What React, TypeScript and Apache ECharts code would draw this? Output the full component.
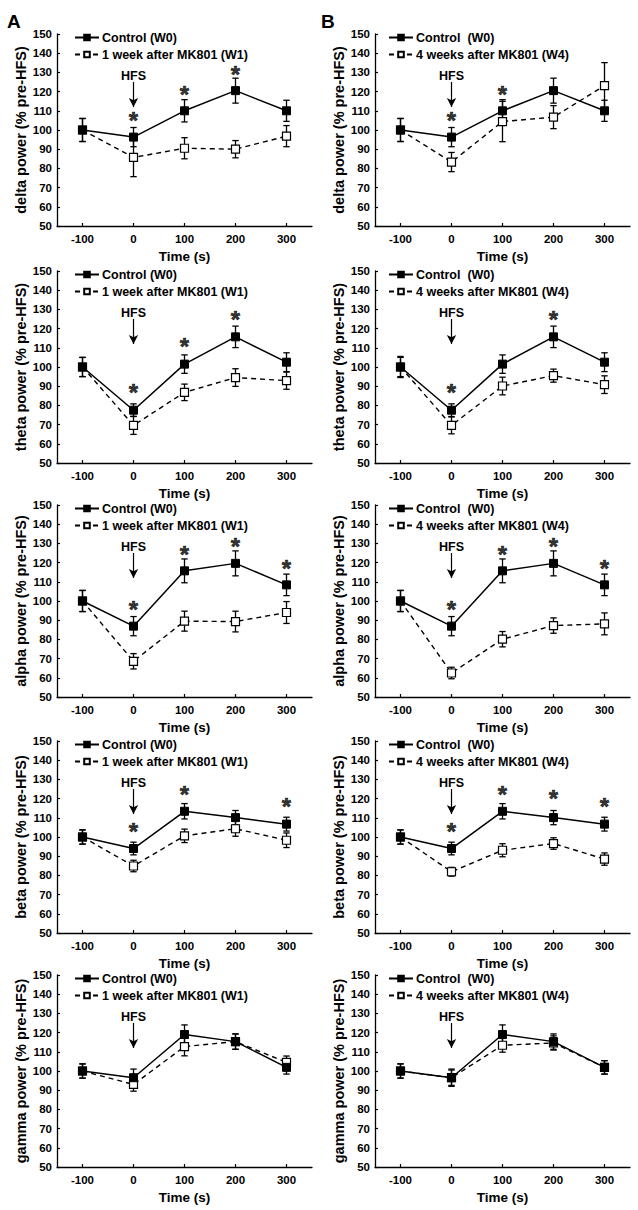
import React, { useEffect, useRef } from "react";
import * as echarts from "echarts";

const FONT = "'Liberation Sans', Arial, Helvetica, sans-serif";

// ---- data ----
const times = [-100, 0, 100, 200, 300];

const bandNames = ["delta", "theta", "alpha", "beta", "gamma"];

const deltaCtrl = [100, 96.3, 110, 120.5, 110];
const deltaCtrlErr = [6, 5, 5.8, 6.5, 5.5];
const deltaW1 = [100, 85.7, 90.5, 90, 96.8];
const deltaW1Err = [6, 10, 5.5, 4.5, 5.5];
const deltaW4 = [100, 83.3, 104.4, 106.7, 123.1];
const deltaW4Err = [6, 5, 10.5, 6, 12];
const deltaStarsA = [[0, 107.7], [100, 121.4], [200, 131.8]];
const deltaStarsB = [[0, 107.7], [100, 121.4]];

const thetaCtrl = [100, 77.5, 101.5, 115.7, 102.5];
const thetaCtrlErr = [5, 3.3, 4.8, 5.6, 4.9];
const thetaW1 = [100, 69.6, 86.8, 94.5, 92.9];
const thetaW1Err = [5, 4.7, 4.3, 4.6, 4.5];
const thetaW4 = [100, 69.6, 90.1, 95.5, 90.8];
const thetaW4Err = [5.5, 4.4, 4.6, 3.4, 4.6];
const thetaStarsA = [[0, 89.6], [100, 113.6], [200, 127.6]];
const thetaStarsB = [[0, 89.6], [200, 127.6]];

const alphaCtrl = [100, 86.9, 115.7, 119.6, 108.4];
const alphaCtrlErr = [5.5, 5, 6.2, 6.5, 5.6];
const alphaW1 = [100, 68.6, 89.5, 89.3, 94];
const alphaW1Err = [5.5, 4, 5.2, 5.4, 5.7];
const alphaW4 = [100, 62.5, 80.1, 87.2, 88.1];
const alphaW4Err = [5.5, 3, 4, 4, 5.7];
const alphaStarsA = [[0, 98.3], [100, 127], [200, 131], [300, 120]];
const alphaStarsB = [[0, 98.3], [100, 127], [200, 131], [300, 120]];

const betaCtrl = [100, 94, 113.4, 110.1, 106.7];
const betaCtrlErr = [3.7, 3.3, 4, 3.7, 3.6];
const betaW1 = [100, 84.9, 100.6, 104.3, 98.3];
const betaW1Err = [3.7, 3, 3.5, 3.9, 3.8];
const betaW4 = [100, 81.9, 93.1, 96.6, 88.5];
const betaW4Err = [3.7, 2.3, 3.4, 3, 3.2];
const betaStarsA = [[0, 105.5], [100, 124.8], [300, 118.8]];
const betaStarsB = [[0, 105.5], [100, 124.8], [200, 123], [300, 118.8]];

const gammaCtrl = [100, 96.5, 119, 115.3, 101.9];
const gammaCtrlErr = [3.7, 4.5, 5, 4, 3.5];
const gammaW1 = [100, 93, 112.7, 115.3, 104.5];
const gammaW1Err = [3.7, 3.5, 4.8, 4, 3.3];
const gammaW4 = [100, 96.5, 113.4, 114.6, 101.9];
const gammaW4Err = [3.7, 4, 3.6, 3.7, 3.5];
const gammaStarsA: number[][] = [];
const gammaStarsB: number[][] = [];

const ctrlNames = ["Control (W0)", "Control  (W0)"];
const treatNames = ["1 week after MK801 (W1)", "4 weeks after MK801 (W4)"];
const panelLetters = ["A", "B"];

const hfsArrow = { x: 0, from: 125, to: 112 };

const ctrlData = [deltaCtrl, thetaCtrl, alphaCtrl, betaCtrl, gammaCtrl];
const ctrlErr = [deltaCtrlErr, thetaCtrlErr, alphaCtrlErr, betaCtrlErr, gammaCtrlErr];
const treatData = [
  [deltaW1, thetaW1, alphaW1, betaW1, gammaW1],
  [deltaW4, thetaW4, alphaW4, betaW4, gammaW4],
];
const treatErr = [
  [deltaW1Err, thetaW1Err, alphaW1Err, betaW1Err, gammaW1Err],
  [deltaW4Err, thetaW4Err, alphaW4Err, betaW4Err, gammaW4Err],
];
const stars = [
  [deltaStarsA, thetaStarsA, alphaStarsA, betaStarsA, gammaStarsA],
  [deltaStarsB, thetaStarsB, alphaStarsB, betaStarsB, gammaStarsB],
];

// ---- layout ----
const colLeft = [57, 375];
const rowTop = [34, 271, 505, 741, 975];
const gridW = 255;
const gridH = 192;

function errorBarRender(params: any, api: any) {
  const x = api.value(0);
  const lo = api.coord([x, api.value(1)]);
  const hi = api.coord([x, api.value(2)]);
  const cap = 3.2;
  const style = { stroke: "#000", lineWidth: 1.3 };
  return {
    type: "group",
    children: [
      { type: "line", shape: { x1: lo[0], y1: lo[1], x2: hi[0], y2: hi[1] }, style },
      { type: "line", shape: { x1: lo[0] - cap, y1: lo[1], x2: lo[0] + cap, y2: lo[1] }, style },
      { type: "line", shape: { x1: hi[0] - cap, y1: hi[1], x2: hi[0] + cap, y2: hi[1] }, style },
    ],
  };
}

function buildOption() {
  const grid: any[] = [];
  const xAxis: any[] = [];
  const yAxis: any[] = [];
  const series: any[] = [];
  const legend: any[] = [];
  const graphic: any[] = [];

  for (let row = 0; row < 5; row++) {
    for (let col = 0; col < 2; col++) {
      const p = row * 2 + col;
      grid.push({ left: colLeft[col], top: rowTop[row], width: gridW, height: gridH });
      xAxis.push({
        type: "value",
        gridIndex: p,
        min: -150,
        max: 350,
        interval: 50,
        splitLine: { show: false },
        axisLine: { show: true, onZero: false, lineStyle: { color: "#000", width: 1.3 } },
        axisTick: { show: true, inside: true, length: 3, customValues: times, lineStyle: { color: "#000", width: 1.2 } },
        axisLabel: {
          customValues: times,
          color: "#000",
          fontWeight: "bold",
          fontSize: 11.5,
          fontFamily: FONT,
          margin: 7,
        },
        name: "Time (s)",
        nameLocation: "middle",
        nameGap: 23,
        nameTextStyle: { color: "#000", fontWeight: "bold", fontSize: 13.5, fontFamily: FONT },
      });
      yAxis.push({
        type: "value",
        gridIndex: p,
        min: 50,
        max: 150,
        interval: 10,
        splitLine: { show: false },
        axisLine: { show: true, onZero: false, lineStyle: { color: "#000", width: 1.3 } },
        axisTick: { show: true, inside: true, length: 3, lineStyle: { color: "#000", width: 1.2 } },
        axisLabel: { color: "#000", fontWeight: "bold", fontSize: 11.5, fontFamily: FONT, margin: 5 },
        name: bandNames[row] + " power (% pre-HFS)",
        nameLocation: "middle",
        nameGap: 25,
        nameTextStyle: { color: "#000", fontWeight: "bold", fontSize: 14.5, fontFamily: FONT },
      });

      const cData = times.map((t, i) => [t, ctrlData[row][i]]);
      const tData = times.map((t, i) => [t, treatData[col][row][i]]);
      const cErr = times.map((t, i) => [t, ctrlData[row][i] - ctrlErr[row][i], ctrlData[row][i] + ctrlErr[row][i]]);
      const tErr = times.map((t, i) => [
        t,
        treatData[col][row][i] - treatErr[col][row][i],
        treatData[col][row][i] + treatErr[col][row][i],
      ]);

      series.push({
        type: "custom",
        xAxisIndex: p,
        yAxisIndex: p,
        renderItem: errorBarRender,
        data: tErr,
        z: 2,
        silent: true,
      });
      series.push({
        type: "custom",
        xAxisIndex: p,
        yAxisIndex: p,
        renderItem: errorBarRender,
        data: cErr,
        z: 2,
        silent: true,
      });
      series.push({
        type: "line",
        name: treatNames[col],
        xAxisIndex: p,
        yAxisIndex: p,
        data: tData,
        symbol: "rect",
        symbolSize: 8,
        showAllSymbol: true,
        itemStyle: { color: "#fff", borderColor: "#000", borderWidth: 1.2 },
        lineStyle: { color: "#000", width: 1.4, type: [5, 4] },
        z: 3,
        silent: true,
      });
      series.push({
        type: "line",
        name: ctrlNames[col],
        xAxisIndex: p,
        yAxisIndex: p,
        data: cData,
        symbol: "rect",
        symbolSize: 8,
        showAllSymbol: true,
        itemStyle: { color: "#000", borderColor: "#000", borderWidth: 1 },
        lineStyle: { color: "#000", width: 1.5, type: "solid" },
        z: 4,
        silent: true,
        markLine: {
          silent: true,
          symbol: ["none", "arrow"],
          symbolSize: [7, 9],
          lineStyle: { color: "#000", width: 1.2, type: "solid" },
          label: {
            show: true,
            position: "start",
            formatter: "HFS",
            color: "#000",
            fontSize: 12.5,
            fontWeight: "bold",
            fontFamily: FONT,
            distance: 0,
          },
          emphasis: { disabled: true },
          data: [
            [
              { coord: [hfsArrow.x, hfsArrow.from] },
              { coord: [hfsArrow.x, hfsArrow.to] },
            ],
          ],
        },
      });
      series.push({
        type: "scatter",
        xAxisIndex: p,
        yAxisIndex: p,
        data: stars[col][row],
        symbolSize: 0,
        silent: true,
        z: 5,
        label: {
          show: true,
          position: "inside",
          formatter: "*",
          color: "#000",
          fontSize: 24,
          lineHeight: 10,
          fontWeight: "bold",
          fontFamily: FONT,
          textBorderColor: "#000",
          textBorderWidth: 0.6,
          offset: [0, 5.5],
        },
      });

      legend.push({
        orient: "vertical",
        left: colLeft[col] + (col === 0 ? 12 : 8),
        top: rowTop[row] - 8,
        itemWidth: 24,
        itemHeight: 7,
        itemGap: 4,
        selectedMode: false,
        data: [ctrlNames[col], treatNames[col]],
        textStyle: { color: "#000", fontWeight: "bold", fontSize: 12.5, fontFamily: FONT, padding: [0, 0, 0, -2] },
      });
    }
  }

  for (let col = 0; col < 2; col++) {
    graphic.push({
      type: "text",
      left: col === 0 ? 7 : 321,
      top: 12,
      style: { text: panelLetters[col], fill: "#000", font: "bold 19px " + FONT },
    });
  }

  return {
    animation: false,
    backgroundColor: "#fff",
    grid,
    xAxis,
    yAxis,
    series,
    legend,
    graphic,
  };
}

export default function App() {
  const ref = useRef<HTMLDivElement>(null);
  useEffect(() => {
    if (!ref.current) return;
    const chart = echarts.init(ref.current, null, { renderer: "svg" });
    chart.setOption(buildOption() as any);
    return () => chart.dispose();
  }, []);
  return (
    <div
      ref={ref}
      style={{ position: "absolute", left: 0, top: 0, width: 638, height: 1210, background: "#fff" }}
    />
  );
}
